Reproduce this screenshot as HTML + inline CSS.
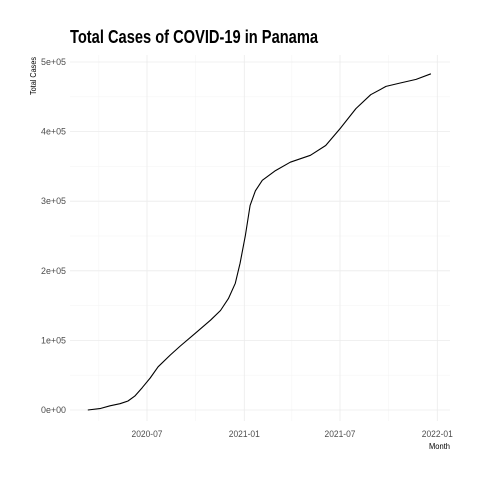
<!DOCTYPE html>
<html><head><meta charset="utf-8">
<style>
html,body{margin:0;padding:0;background:#fff;}
svg{display:block;font-family:"Liberation Sans Narrow","Liberation Sans",sans-serif;}
</style></head>
<body>
<svg id="chart" width="480" height="480" viewBox="0 0 480 480">
  <rect width="480" height="480" fill="#fff"/>
  <text x="70" y="43" font-size="18" font-weight="bold" fill="#000" textLength="248" lengthAdjust="spacingAndGlyphs">Total Cases of COVID-19 in Panama</text>
  <text transform="translate(36,76) rotate(-90)" font-size="8" fill="#000" text-anchor="middle" textLength="38" lengthAdjust="spacingAndGlyphs">Total Cases</text>
  <text x="450" y="449" font-size="8" fill="#000" text-anchor="end" textLength="21" lengthAdjust="spacingAndGlyphs">Month</text>
  <g id="grid"></g>
  <g id="axes"></g>
  <g id="series"></g>
</svg>
<script>
const dates = ["2020-03-11","2020-04-03","2020-04-22","2020-05-11","2020-05-26","2020-06-08","2020-06-22","2020-07-07","2020-07-22","2020-08-14","2020-09-02","2020-09-30","2020-10-29","2020-11-17","2020-12-02","2020-12-15","2020-12-24","2021-01-03","2021-01-12","2021-01-22","2021-02-04","2021-03-01","2021-03-29","2021-05-06","2021-06-04","2021-07-02","2021-07-31","2021-08-28","2021-09-26","2021-10-24","2021-11-22","2021-12-20"];
const cases = [0,2000,6000,9000,13000,20000,32000,46000,62000,79000,92000,110000,129000,143000,160000,182000,211000,251000,294000,315000,330000,344000,356000,366000,380000,405000,433000,453000,465000,470000,475000,483000];
const yTicks = [0,100000,200000,300000,400000,500000];
const yTickLabels = ["0e+00","1e+05","2e+05","3e+05","4e+05","5e+05"];
const yMinor = [50000,150000,250000,350000,450000];
const xTicks = ["2020-07-01","2021-01-01","2021-07-01","2022-01-01"];
const xTickLabels = ["2020-07","2021-01","2021-07","2022-01"];
const xMinor = ["2020-04-01","2020-10-01","2021-04-01","2021-10-01"];

const NS="http://www.w3.org/2000/svg";
const PX0=70, PX1=450, PY0=55, PY1=421;
const d0 = Date.parse("2020-07-01"), d1 = Date.parse("2021-07-01");
function xs(s){ const t=Date.parse(s); return 147 + (t-d0)/(d1-d0)*(340-147); }
function ys(v){ return 410 - v/100000*69.6; }
function mk(tag, attrs, parent){ const e=document.createElementNS(NS,tag); for(const k in attrs) e.setAttribute(k,attrs[k]); parent.appendChild(e); return e; }
const grid=document.getElementById('grid'), axes=document.getElementById('axes'), series=document.getElementById('series');

yMinor.forEach(v=>{ const l=mk('line',{x1:PX0,x2:PX1,y1:ys(v),y2:ys(v),stroke:'#f3f3f3','stroke-width':0.5},grid);

 });
xMinor.forEach(d=>{ const l=mk('line',{x1:xs(d),x2:xs(d),y1:PY0,y2:PY1,stroke:'#f3f3f3','stroke-width':0.5},grid);

 });
yTicks.forEach((v,i)=>{ const l=mk('line',{x1:PX0,x2:PX1,y1:ys(v),y2:ys(v),stroke:'#ebebeb','stroke-width':0.8},grid);


const t=mk('text',{x:66,y:ys(v)+3,'font-size':9,fill:'#4d4d4d','text-anchor':'end',textLength:25,lengthAdjust:'spacingAndGlyphs'},axes); t.textContent=yTickLabels[i];

 });
xTicks.forEach((d,i)=>{ const l=mk('line',{x1:xs(d),x2:xs(d),y1:PY0,y2:PY1,stroke:'#ebebeb','stroke-width':0.8},grid);


const t=mk('text',{x:xs(d),y:437,'font-size':9,fill:'#4d4d4d','text-anchor':'middle',textLength:31,lengthAdjust:'spacingAndGlyphs'},axes); t.textContent=xTickLabels[i];

 });

const pts = dates.map((d,i)=>xs(d).toFixed(1)+','+ys(cases[i]).toFixed(1)).join(' ');
const line = mk('polyline',{points:pts,fill:'none',stroke:'#000','stroke-width':1.1,'stroke-linejoin':'round'},series);


</script>
</body></html>
